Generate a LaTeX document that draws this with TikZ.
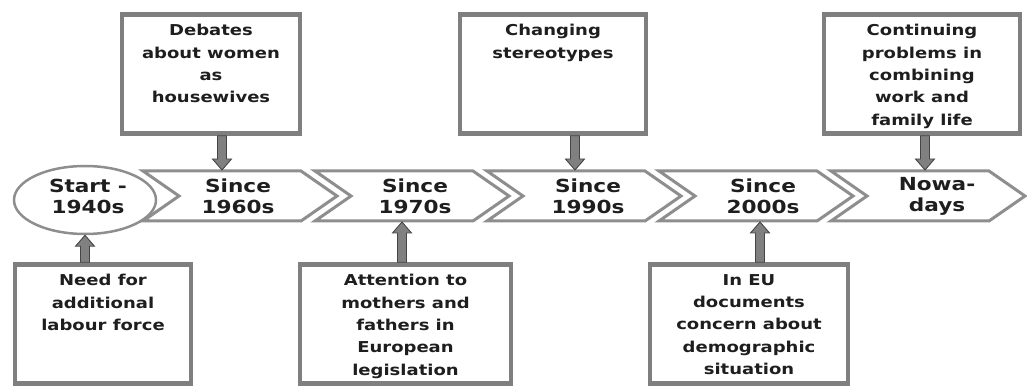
\documentclass[tikz,border=0pt]{standalone}
\usepackage{fontspec}
\newfontfamily\labfont{DejaVu Sans}[FakeStretch=1.2]
\usetikzlibrary{calc,shapes.geometric}

\definecolor{boxgray}{HTML}{7F7F7F}
\definecolor{chevgray}{HTML}{8E8E8E}
\definecolor{arrowgray}{HTML}{808080}
\definecolor{arrowedge}{HTML}{454545}
\definecolor{ink}{HTML}{1E1E1E}

% vertical block arrow from point #1 to point #2
\newcommand\blockarrow[2]{%
  \draw[barrow] let \p1=(#1), \p2=(#2), \n1={\y2-sign(\y2-\y1)*11pt} in
    ({\x1-4.5pt},\y1) -- ({\x1-4.5pt},\n1) -- ({\x1-9.5pt},\n1)
    -- (\x1,\y2) -- ({\x1+9.5pt},\n1) -- ({\x1+4.5pt},\n1)
    -- ({\x1+4.5pt},\y1) -- cycle;}

% chevron whose top-left corner sits at x = #1
\newcommand\chev[1]{%
  \draw[chevron] (#1,171) -- ++(158,0) -- ++(36,25) -- ++(-36,25)
    -- ++(-158,0) -- ++(36,-25) -- cycle;}

\begin{document}
\begin{tikzpicture}[x=1pt,y=-1pt,
  box/.style={draw=boxgray, line width=4.5pt, fill=white,
    minimum height=119pt, inner sep=0pt},
  boxtext/.style={font=\labfont\bfseries\fontsize{15}{22.3}\selectfont,
    text=ink, align=center, inner sep=0pt},
  chevtext/.style={font=\labfont\bfseries\fontsize{18}{21}\selectfont,
    text=ink, align=center, inner sep=0pt},
  chevron/.style={draw=chevgray, line width=3pt, fill=white, line join=miter},
  startbubble/.style={ellipse, draw=chevgray, line width=2.5pt, fill=white,
    minimum width=142pt, minimum height=68pt, inner sep=0pt},
  barrow/.style={fill=arrowgray, draw=arrowedge, line width=0.9pt, line join=miter}]

\useasboundingbox (0,0) rectangle (1027,387);

% timeline
\chev{143}
\chev{315}
\chev{487}
\chev{659}
\chev{831}
\node[startbubble] (st) at (85,200) {};

\node[chevtext] (c0) at (88,196) {Start -\\1940s};
\node[chevtext] (c1) at (238,196) {Since\\1960s};
\node[chevtext] (c2) at (415,196) {Since\\1970s};
\node[chevtext] (c3) at (588,196) {Since\\1990s};
\node[chevtext] (c4) at (763,196) {Since\\2000s};
\node[chevtext] (c5) at (937,196) {Nowa-\\days};

% upper boxes
\node[box, minimum width=178pt] (b1) at (211,74) {};
\node[box, minimum width=186pt] (b2) at (553,74) {};
\node[box, minimum width=196pt] (b3) at (922,74) {};
% lower boxes
\node[box, minimum width=176pt] (b4) at (103,324) {};
\node[box, minimum width=211pt] (b5) at (405.5,324) {};
\node[box, minimum width=198pt] (b6) at (749,324) {};

\node[boxtext, below=12pt] (t1) at (b1.north) {Debates\\about women\\as\\housewives};
\node[boxtext, below=12pt] (t2) at (b2.north) {Changing\\stereotypes};
\node[boxtext, below=12pt] (t3) at (b3.north) {Continuing\\problems in\\combining\\work and\\family life};
\node[boxtext, below=12pt] (t4) at (b4.north) {Need for\\additional\\labour force};
\node[boxtext, below=12pt] (t5) at (b5.north) {Attention to\\mothers and\\fathers in\\European\\legislation};
\node[boxtext, below=12pt] (t6) at (b6.north) {In EU\\documents\\concern about\\demographic\\situation};

% arrow ends on the timeline
\coordinate (d1) at (222,170);
\coordinate (d2) at (575,170);
\coordinate (d3) at (925,170);
\coordinate (u2) at (402,222);
\coordinate (u3) at (760,222);

\blockarrow{b1.south -| d1}{d1}
\blockarrow{b2.south -| d2}{d2}
\blockarrow{b3.south -| d3}{d3}
\blockarrow{b4.north -| st.south}{st.south}
\blockarrow{b5.north -| u2}{u2}
\blockarrow{b6.north -| u3}{u3}
\end{tikzpicture}
\end{document}
